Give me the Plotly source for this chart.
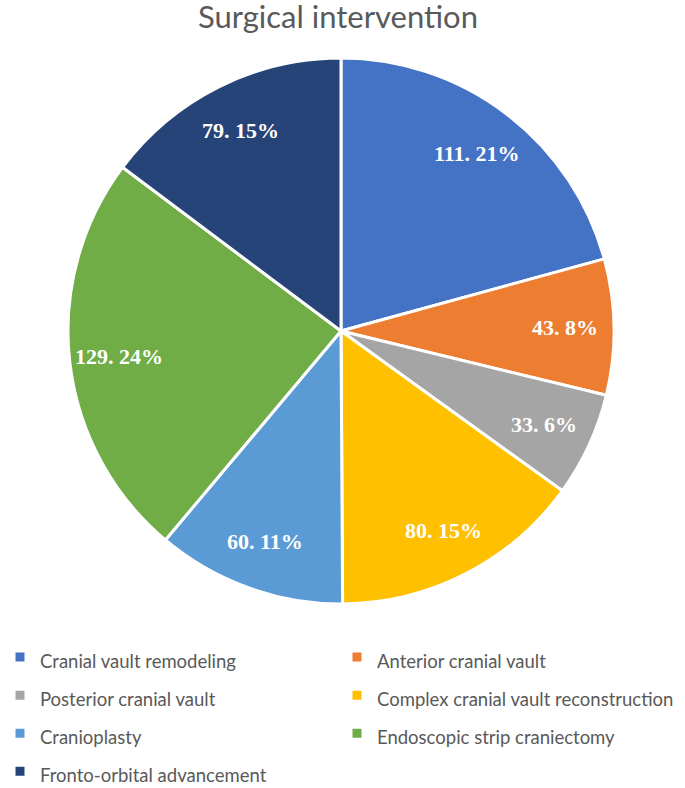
import math
import plotly.graph_objects as go

labels = ["Cranial vault remodeling", "Anterior cranial vault", "Posterior cranial vault",
          "Complex cranial vault reconstruction", "Cranioplasty",
          "Endoscopic strip craniectomy", "Fronto-orbital advancement"]
values = [111, 43, 33, 80, 60, 129, 79]
colors = ["#4472C4", "#ED7D31", "#A5A5A5", "#FFC000", "#5B9BD5", "#70AD47", "#264478"]

W, H = 685, 788
MB = 158                 # bottom margin holds the legend
PH = H - MB              # plot area height
# pie geometry in pixels (centre and radius)
CX, CY, R = 341, 331, 273


def py(y):
    # pixel row -> paper fraction of the plot area
    return (PH - y) / PH


fig = go.Figure()

fig.add_trace(go.Pie(
    labels=[f"<span style='font-size:18.5px'>{l}</span>" for l in labels],
    values=values,
    sort=False,
    direction="clockwise",
    rotation=0,
    marker=dict(colors=colors, line=dict(color="white", width=3)),
    textinfo="none",
    domain=dict(x=[(CX - R) / W, (CX + R) / W], y=[py(CY + R), py(CY - R)]),
    hovertext=labels,
    hoverinfo="text+value+percent",
))

# data labels placed like Excel: towards the outer part of each slice
total = sum(values)
cum = 0
for v in values:
    mid = (cum + v / 2) / total * 2 * math.pi
    cum += v
    r = 0.82 * R
    fig.add_annotation(
        x=(CX + r * math.sin(mid)) / W, y=py(CY - r * math.cos(mid)),
        xref="paper", yref="paper", xanchor="center", yanchor="middle", showarrow=False,
        text=f"{v}. {round(v / total * 100)}%",
        font=dict(family="Liberation Serif", size=22, color="white", weight="bold"),
    )

fig.update_layout(
    width=W, height=H,
    margin=dict(l=0, r=0, t=0, b=MB, autoexpand=False),
    paper_bgcolor="white",
    title=dict(text="Surgical intervention", xref="container", x=338 / W, xanchor="center",
               yref="container", y=1 - 17 / H, yanchor="middle",
               font=dict(family="Lato", size=31, color="#595959")),
    showlegend=True,
    legend=dict(orientation="h", x=0, xanchor="left", y=py(633), yanchor="top",
                entrywidth=292, entrywidthmode="pixels",
                font=dict(family="Lato", size=27, color="#595959"),
                itemwidth=30),
)

# drop the page's default body margin so the figure sits at the window's corner
fig.write_html("out.html", config=dict(displayModeBar=False),
               post_script="document.body.style.margin='0px';")
